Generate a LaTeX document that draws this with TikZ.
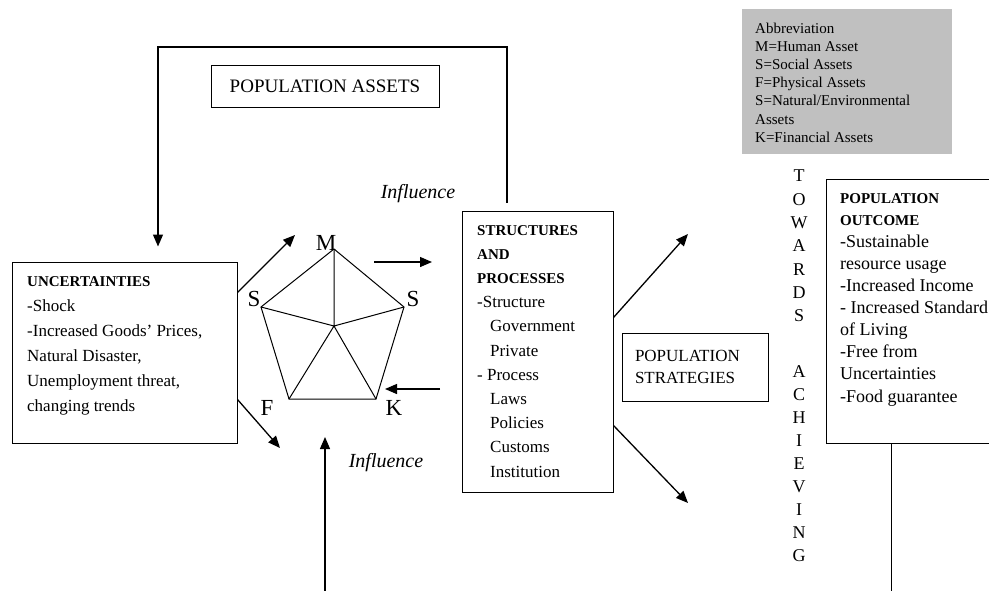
\documentclass[tikz,border=0pt]{standalone}
\usepackage{fontspec}
\setmainfont{Liberation Serif}
\usetikzlibrary{arrows.meta,calc}
\definecolor{abg}{RGB}{192,192,192}
\begin{document}
\begin{tikzpicture}[x=1pt,y=-1pt,
  box/.style={draw,line width=1pt,inner sep=0pt},
  arr/.style={line width=1.3pt,-{Triangle[length=12pt,width=10pt]}},
  edgeline/.style={line width=1pt},
  txt/.style={anchor=north west,inner sep=0pt,align=left},
  letter/.style={anchor=base,inner sep=0pt,font=\fontsize{23}{26}\selectfont},
  infl/.style={anchor=base,inner sep=0pt,font=\itshape\fontsize{20}{24}\selectfont},
  vert/.style={anchor=north,inner sep=0pt,align=center}
 ]
\clip (0,0) rectangle (989,590);
\fill[white] (0,0) rectangle (989,590);

% boxes
\node[box,minimum width=228pt,minimum height=42pt,font=\fontsize{19}{22}\selectfont] (assets) at (325,86) {POPULATION ASSETS};
\node[box,minimum width=225pt,minimum height=181pt] (unc) at (124.5,352.5) {};
\node[txt,font=\fontsize{17}{25}\selectfont] (unctext) at (27,276)
  {{\bfseries\fontsize{15}{25}\selectfont UNCERTAINTIES}\\
   -Shock\\
   -Increased Goods’ Prices,\\
   Natural Disaster,\\
   Unemployment threat,\\
   changing trends};

\node[box,minimum width=151pt,minimum height=281pt] (struct) at (537.5,351.5) {};
\node[txt,font=\fontsize{17}{24.2}\selectfont] (structtext) at (477,225)
  {{\bfseries\fontsize{15}{24.2}\selectfont STRUCTURES}\\
   {\bfseries\fontsize{15}{24.2}\selectfont AND}\\
   {\bfseries\fontsize{15}{24.2}\selectfont PROCESSES}\\
   -Structure\\
   \hspace*{13pt}Government\\
   \hspace*{13pt}Private\\
   - Process\\
   \hspace*{13pt}Laws\\
   \hspace*{13pt}Policies\\
   \hspace*{13pt}Customs\\
   \hspace*{13pt}Institution};

\node[box,minimum width=146pt,minimum height=68pt,text width=120pt,inner xsep=13pt,align=left,
  font=\fontsize{17}{22}\selectfont] (strat) at (695,367) {POPULATION\\STRATEGIES};

\node[fill=abg,inner sep=0pt,minimum width=210pt,minimum height=145pt] (abbrev) at (847,81.5) {};
\node[txt,font=\fontsize{15}{18.2}\selectfont] (abbrevtext) at (755,22.5)
  {Abbreviation\\
   M=Human Asset\\
   S=Social Assets\\
   F=Physical Assets\\
   S=Natural/Environmental\\
   Assets\\
   K=Financial Assets};

\node[box,minimum width=174pt,minimum height=264pt] (outc) at (913,311) {};
\node[txt,font=\fontsize{18}{22.1}\selectfont] (outctext) at (840,193)
  {{\bfseries\fontsize{15}{22.1}\selectfont POPULATION}\\
   {\bfseries\fontsize{15}{22.1}\selectfont OUTCOME}\\
   -Sustainable\\
   resource usage\\
   -Increased Income\\
   - Increased Standard\\
   of Living\\
   -Free from\\
   Uncertainties\\
   -Food guarantee};

% vertical text
\node[vert,font=\fontsize{18}{23.3}\selectfont] (tow) at (799,170) {T\\O\\W\\A\\R\\D\\S};
\node[vert,font=\fontsize{18}{23.1}\selectfont] (ach) at (799,365) {A\\C\\H\\I\\E\\V\\I\\N\\G};

% influence labels
\node[infl] (inf1) at (418,198) {Influence};
\node[infl] (inf2) at (386,467) {Influence};

% pentagon
\coordinate (pm) at (334,249);
\coordinate (psl) at (261,307);
\coordinate (psr) at (404,307);
\coordinate (pk) at (376,399);
\coordinate (pf) at (289,399);
\coordinate (pc) at (334,326);
\draw[edgeline] (pm) -- (psr) -- (pk) -- (pf) -- (psl) -- cycle;
\draw[edgeline] (pc) -- (pm) (pc) -- (psl) (pc) -- (psr) (pc) -- (pk) (pc) -- (pf);
\node[letter] (lm) at (326,250) {M};
\node[letter] (ls1) at (254,306) {S};
\node[letter] (ls2) at (413,306) {S};
\node[letter] (lf) at (267,415) {F};
\node[letter] (lk) at (394,415) {K};

% free arrow ends
\coordinate (t1) at (295,235);
\coordinate (t2) at (280,448);
\coordinate (s3) at (374,262);
\coordinate (t3) at (432,262);
\coordinate (s4) at (440,389);
\coordinate (t4) at (385,389);
\coordinate (s5) at (325,592);
\coordinate (t5) at (325,437);
\coordinate (t6) at (688,234);
\coordinate (t7) at (688,503);
\coordinate (fbr) at (507,47);
\coordinate (fbl) at (158,47);

% arrows
\draw[arr] ([yshift=-31pt]unc.north east) -- (t1);
\draw[arr] ([yshift=-138pt]unc.north east) -- (t2);
\draw[arr] (s3) -- (t3);
\draw[arr] (s4) -- (t4);
\draw[arr] (s5) -- (t5);
\draw[arr] ([yshift=-107pt]struct.north east) -- (t6);
\draw[arr] ([yshift=-215pt]struct.north east) -- (t7);
\draw[arr] ([xshift=-30.5pt,yshift=8pt]struct.north) -- (fbr) -- (fbl) -- ([xshift=33.5pt,yshift=15pt]unc.north);
\draw[edgeline] ([xshift=66pt]outc.south west) -- ++(0,150);
\end{tikzpicture}
\end{document}
